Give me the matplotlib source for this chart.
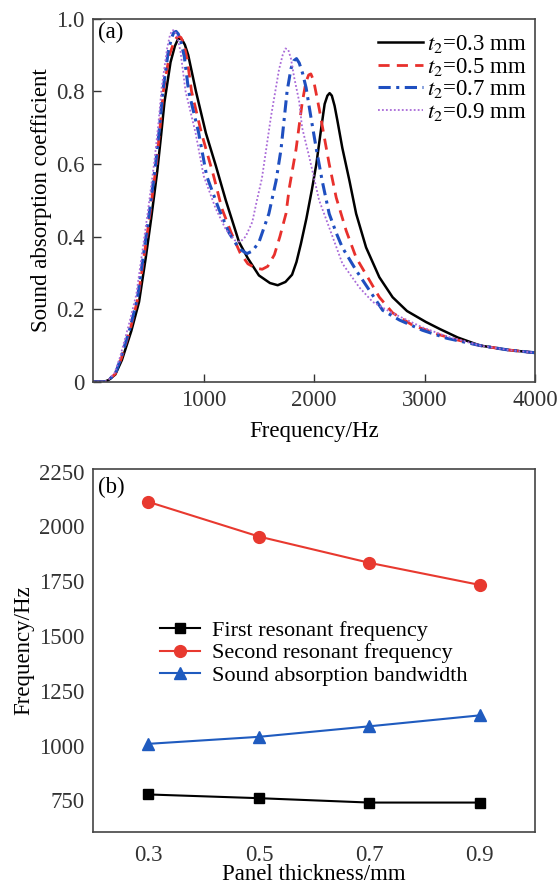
import matplotlib
matplotlib.use("Agg")
import matplotlib.pyplot as plt

plt.rcParams['font.family'] = ['Liberation Serif', 'DejaVu Serif']
plt.rcParams['mathtext.fontset'] = 'stix'

# (a) absorption curves, one pair per panel thickness
f_03 = [0, 100, 140, 200, 260, 345, 415, 475, 525, 580, 615, 645, 700, 740, 765, 785, 805, 830, 860,
        930, 1020, 1110, 1200, 1320, 1400, 1500, 1600, 1670, 1740, 1800, 1840, 1880, 1930, 1980,
        2020, 2060, 2095, 2120, 2140, 2160, 2185, 2210, 2255, 2320, 2380, 2470, 2590, 2710, 2840,
        3010, 3140, 3300, 3500, 3750, 4000]
a_03 = [0, 0, 0.005, 0.02, 0.06, 0.14, 0.22, 0.34, 0.45, 0.58, 0.68, 0.77, 0.88, 0.925, 0.942,
        0.946, 0.942, 0.928, 0.9, 0.8, 0.685, 0.595, 0.5, 0.385, 0.34, 0.293, 0.272, 0.266, 0.275,
        0.295, 0.33, 0.38, 0.45, 0.53, 0.6, 0.69, 0.765, 0.788, 0.795, 0.788, 0.76, 0.72, 0.644,
        0.553, 0.463, 0.37, 0.288, 0.233, 0.195, 0.165, 0.145, 0.122, 0.1, 0.088, 0.08]

f_05 = [0, 100, 140, 200, 255, 340, 405, 465, 515, 570, 605, 635, 690, 730, 755, 775, 795, 820, 850,
        890, 980, 1090, 1165, 1250, 1330, 1400, 1470, 1530, 1580, 1640, 1690, 1745, 1775, 1836,
        1891, 1925, 1950, 1970, 1995, 2045, 2100, 2136, 2200, 2290, 2380, 2500, 2590, 2710, 2890,
        3140, 3300, 3500, 3750, 4000]
a_05 = [0, 0, 0.005, 0.022, 0.065, 0.15, 0.23, 0.355, 0.465, 0.595, 0.7, 0.8, 0.9, 0.935, 0.948,
        0.952, 0.948, 0.93, 0.89, 0.8, 0.685, 0.567, 0.477, 0.41, 0.355, 0.325, 0.313, 0.31, 0.318,
        0.35, 0.4, 0.463, 0.534, 0.64, 0.767, 0.825, 0.845, 0.848, 0.83, 0.753, 0.66, 0.6, 0.507,
        0.416, 0.342, 0.28, 0.233, 0.19, 0.156, 0.129, 0.115, 0.1, 0.088, 0.08]

f_07 = [0, 100, 140, 200, 250, 335, 400, 460, 510, 565, 600, 630, 680, 710, 730, 750, 770, 795, 825,
        864, 955, 1027, 1136, 1230, 1320, 1391, 1440, 1500, 1590, 1655, 1700, 1755, 1790, 1815,
        1840, 1865, 1895, 1927, 1970, 2018, 2073, 2136, 2200, 2255, 2380, 2500, 2620, 2773, 2980,
        3200, 3500, 3750, 4000]
a_07 = [0, 0, 0.005, 0.022, 0.065, 0.15, 0.23, 0.36, 0.47, 0.6, 0.7, 0.8, 0.91, 0.948, 0.962, 0.965,
        0.958, 0.935, 0.895, 0.8, 0.685, 0.567, 0.477, 0.41, 0.367, 0.353, 0.36, 0.384, 0.463,
        0.553, 0.64, 0.8, 0.862, 0.884, 0.89, 0.878, 0.85, 0.81, 0.73, 0.644, 0.553, 0.463, 0.41,
        0.37, 0.307, 0.252, 0.197, 0.17, 0.142, 0.12, 0.1, 0.088, 0.08]

f_09 = [0, 100, 140, 195, 245, 325, 390, 450, 500, 555, 590, 620, 670, 695, 715, 735, 760, 790, 836,
        927, 1000, 1109, 1200, 1280, 1330, 1380, 1440, 1482, 1527, 1609, 1682, 1715, 1740, 1765,
        1790, 1818, 1864, 1891, 1955, 2045, 2136, 2255, 2409, 2530, 2710, 2980, 3200, 3500, 3750,
        4000]
a_09 = [0, 0, 0.006, 0.025, 0.07, 0.16, 0.24, 0.37, 0.48, 0.61, 0.71, 0.81, 0.92, 0.955, 0.968,
        0.968, 0.952, 0.91, 0.8, 0.685, 0.567, 0.477, 0.42, 0.39, 0.385, 0.4, 0.44, 0.5, 0.56, 0.73,
        0.86, 0.9, 0.918, 0.915, 0.89, 0.84, 0.773, 0.7, 0.62, 0.5, 0.425, 0.326, 0.26, 0.22,
        0.189, 0.15, 0.125, 0.1, 0.088, 0.08]

# (b) resonant frequencies / bandwidth vs panel thickness
thickness = [0.3, 0.5, 0.7, 0.9]
first_res = [777, 760, 740, 740]
second_res = [2112, 1954, 1834, 1733]
bandwidth = [1008, 1040, 1088, 1138]

FS = 16.5

fig = plt.figure(figsize=(5.58, 8.90), dpi=100)

# ---- panel (a)
ax1 = fig.add_axes([0.167, 0.571, 0.792, 0.408])
ax1.plot(f_03, a_03, color='black', lw=1.8, label='$t_2$=0.3 mm')
ax1.plot(f_05, a_05, color='#e8302c', lw=2.0, ls=(0, (4, 2.6)), label='$t_2$=0.5 mm')
ax1.plot(f_07, a_07, color='#1f4fc0', lw=2.2, ls=(0, (4, 1.8, 1, 1.8)), label='$t_2$=0.7 mm')
ax1.plot(f_09, a_09, color='#a96ad8', lw=1.3, ls=(0, (1, 1.2)), label='$t_2$=0.9 mm')
ax1.set_xlim(0, 4000)
ax1.set_ylim(0, 1.0)
ax1.set_xticks([1000, 2000, 3000, 4000])
ax1.set_yticks([0, 0.2, 0.4, 0.6, 0.8, 1.0])
ax1.set_yticklabels(['0', '0.2', '0.4', '0.6', '0.8', '1.0'])
ax1.tick_params(direction='in', length=6, width=1, labelsize=FS, colors='#333333', pad=6)
ax1.set_xlabel('Frequency/Hz', fontsize=FS, labelpad=7)
ax1.set_ylabel('Sound absorption coefficient', fontsize=FS, labelpad=3)
ax1.text(0.012, 0.961, '(a)', transform=ax1.transAxes, fontsize=FS, ha='left', va='center')
ax1.legend(loc='center left', bbox_to_anchor=(0.645, 0.837), frameon=False, fontsize=FS,
           handlelength=1.95, handletextpad=0.18, labelspacing=0.02, borderpad=0, borderaxespad=0)
for s in ax1.spines.values():
    s.set_color('#444444')
    s.set_linewidth(1.2)

# ---- panel (b)
ax2 = fig.add_axes([0.167, 0.065, 0.792, 0.408])
ax2.plot(thickness, first_res, color='black', lw=1.5, marker='s', ms=6.5,
         label='First resonant frequency')
ax2.plot(thickness, second_res, color='#e8392f', lw=1.5, marker='o', ms=8.5,
         label='Second resonant frequency')
ax2.plot(thickness, bandwidth, color='#1f5bbf', lw=1.5, marker='^', ms=8,
         label='Sound absorption bandwidth')
ax2.set_xlim(0.2, 1.0)
ax2.set_ylim(605, 2262)
ax2.set_xticks(thickness)
ax2.set_yticks([750, 1000, 1250, 1500, 1750, 2000, 2250])
ax2.tick_params(length=0, labelsize=FS, colors='#333333', pad=6)
ax2.tick_params(axis='x', pad=9)
ax2.set_xlabel('Panel thickness/mm', fontsize=FS, labelpad=-1)
ax2.set_ylabel('Frequency/Hz', fontsize=FS, labelpad=4)
ax2.text(0.012, 0.95, '(b)', transform=ax2.transAxes, fontsize=FS, ha='left', va='center')
ax2.legend(loc='center left', bbox_to_anchor=(0.152, 0.493), frameon=False, fontsize=16,
           handlelength=1.8, handletextpad=0.54, labelspacing=0.08, borderpad=0, borderaxespad=0)
for s in ax2.spines.values():
    s.set_color('#444444')
    s.set_linewidth(1.2)

fig.savefig('out.png', dpi=100)
